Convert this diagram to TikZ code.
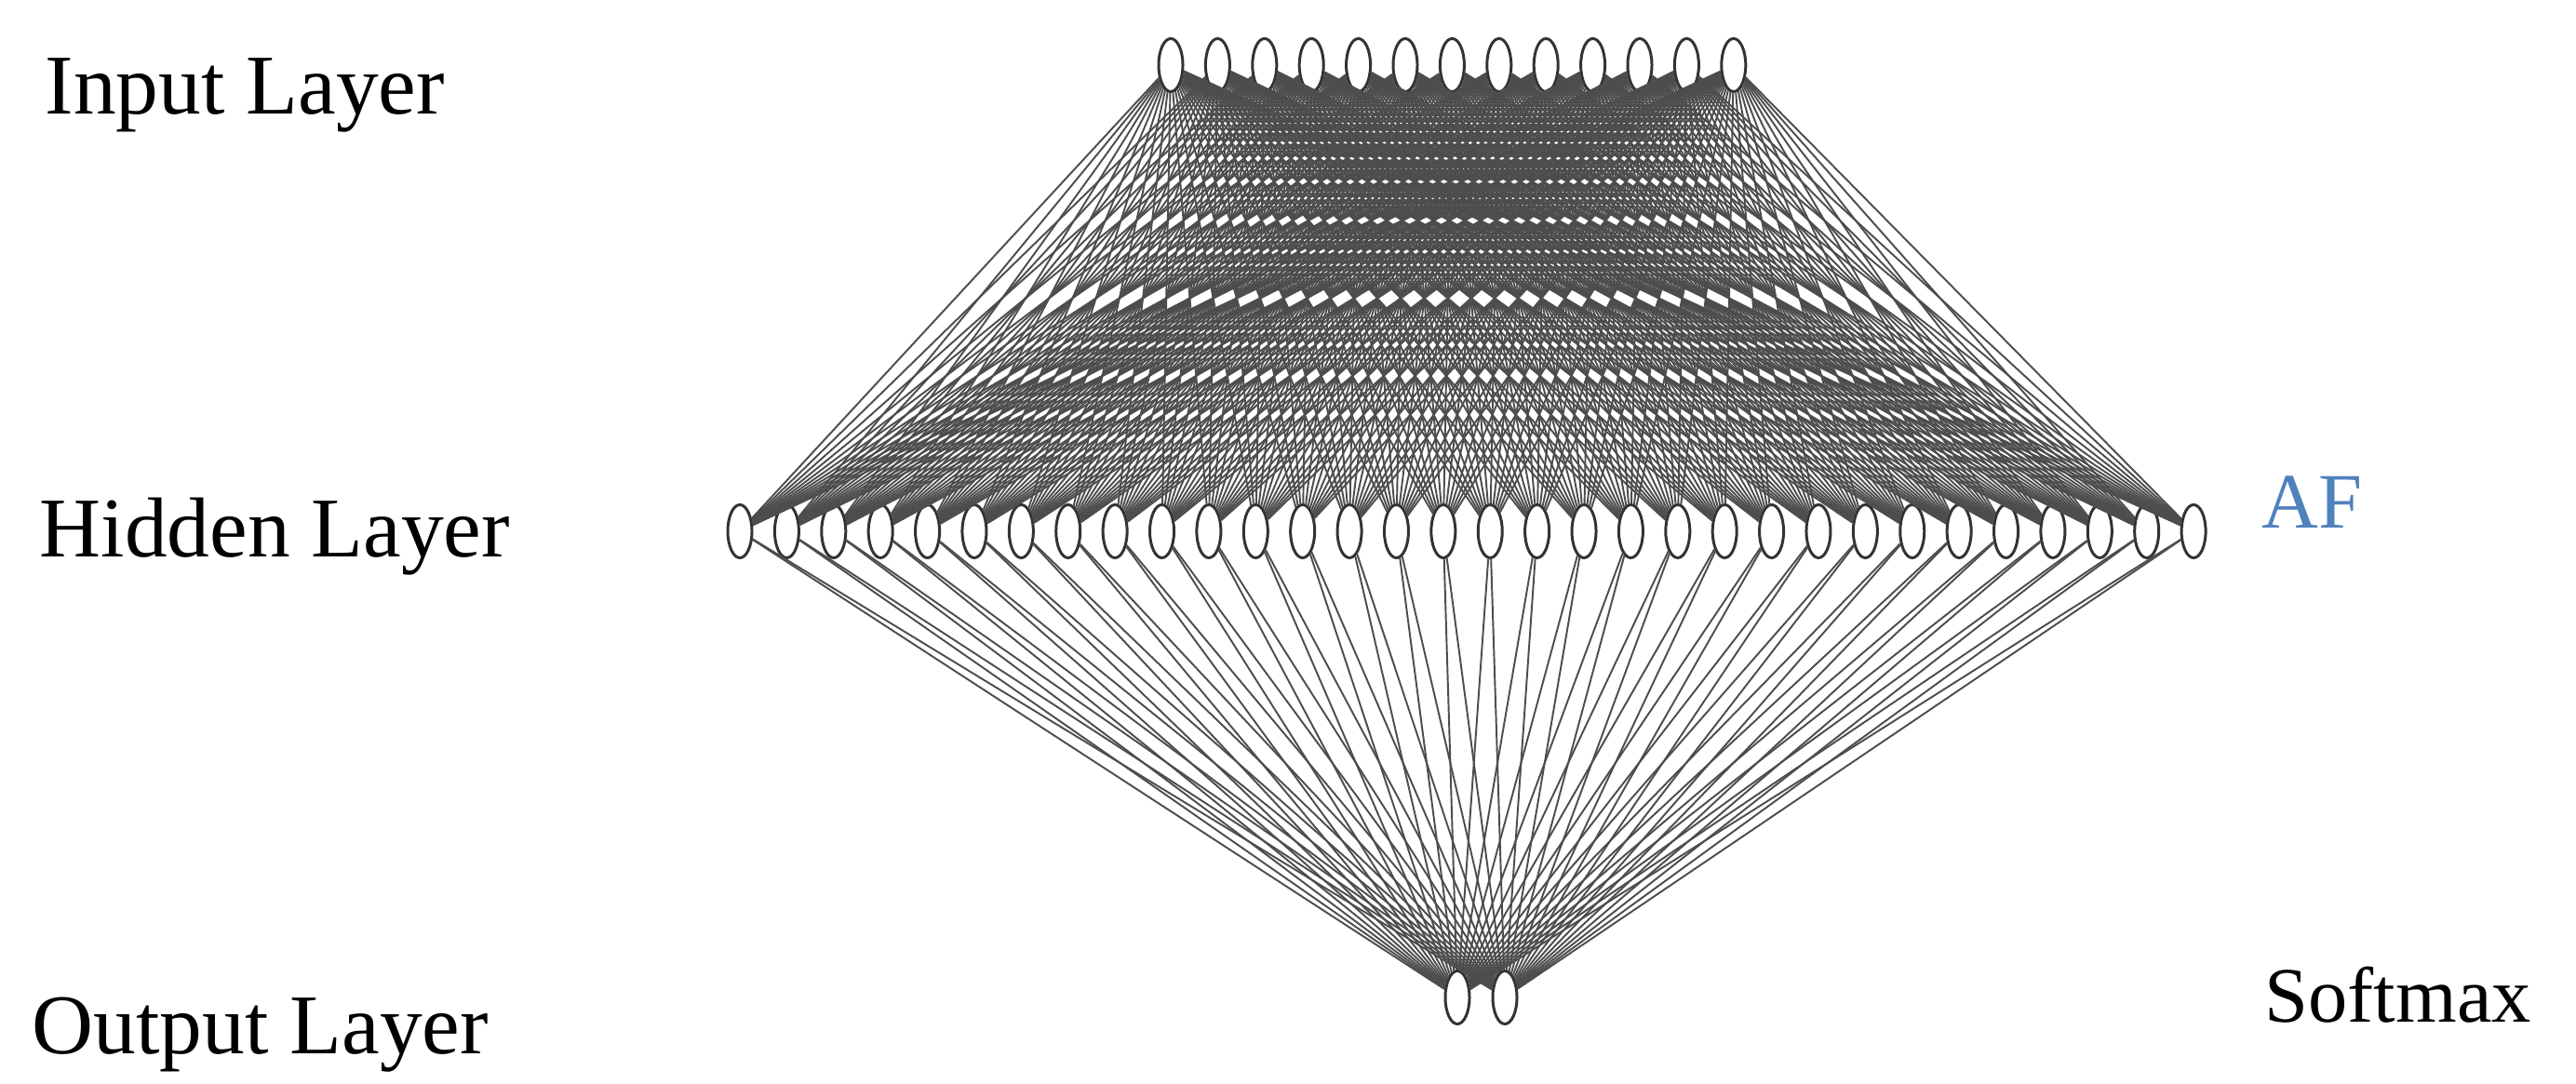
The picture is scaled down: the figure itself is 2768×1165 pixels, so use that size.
\documentclass[tikz,border=0pt]{standalone}
\usepackage{fontspec}
\setmainfont{Liberation Serif}
\usetikzlibrary{shapes.geometric}
\definecolor{nodeline}{RGB}{51,51,51}
\definecolor{edgecol}{RGB}{77,77,77}
\definecolor{afblue}{RGB}{79,129,189}
\tikzset{
  neuron/.style={ellipse, draw=nodeline, line width=0.85pt, fill=white, minimum width=0.26cm, minimum height=0.57cm, inner sep=0pt},
  conn/.style={draw=edgecol, line width=0.55pt},
  layerlabel/.style={anchor=base west, inner sep=0pt, font=\fontsize{26}{30}\selectfont},
  sidelabel/.style={anchor=base west, inner sep=0pt, font=\fontsize{24}{28}\selectfont}
}
\begin{document}
\begin{tikzpicture}[x=0.01cm,y=-0.01cm]
\path[use as bounding box] (0,0) rectangle (2768,1165);
% nodes
\foreach \i in {1,...,13} {
  \node[neuron] (in\i) at ({1258+50.4*(\i-1)},70) {};
}
\foreach \j in {1,...,32} {
  \node[neuron] (hid\j) at ({795+50.39*(\j-1)},571) {};
}
\node[neuron] (out1) at (1566,1072) {};
\node[neuron] (out2) at (1617,1072) {};
% connections
\foreach \i in {1,...,13} {
  \foreach \j in {1,...,32} {
    \draw[conn] (in\i) -- (hid\j);
  }
}
\foreach \j in {1,...,32} {
  \draw[conn] (hid\j) -- (out1);
  \draw[conn] (hid\j) -- (out2);
}
% labels
\node[layerlabel] (lin) at (48,123) {Input Layer};
\node[layerlabel] (lhid) at (42,599) {Hidden Layer};
\node[layerlabel] (lout) at (34,1133) {Output Layer};
\node[sidelabel, text=afblue] (laf) at (2430,568) {AF};
\node[sidelabel] (lsm) at (2433,1099) {Softmax};
\end{tikzpicture}
\end{document}
